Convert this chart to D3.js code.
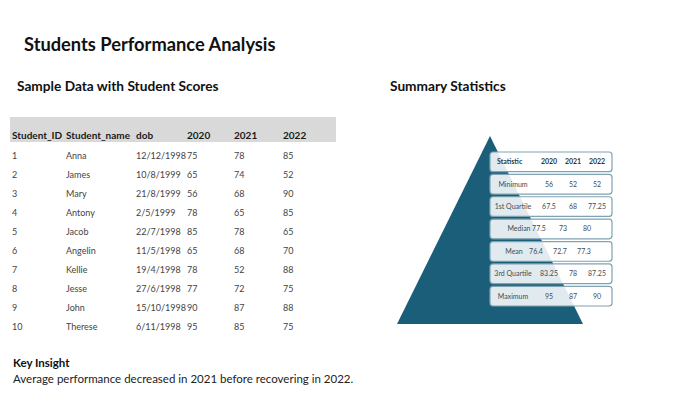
<!DOCTYPE html>
<html>
<head>
<meta charset="utf-8">
<script src="https://cdn.jsdelivr.net/npm/d3@7"></script>
<style>
  body { margin: 0; background: #fff; }
  text { font-family: Lato, "Open Sans", sans-serif; }
</style>
</head>
<body>
<div id="chart"></div>
<script>
// student table data
const columns = ["Student_ID", "Student_name", "dob", "2020", "2021", "2022"];
const ids = [1, 2, 3, 4, 5, 6, 7, 8, 9, 10];
const names = ["Anna", "James", "Mary", "Antony", "Jacob", "Angelin", "Kellie", "Jesse", "John", "Therese"];
const dobs = ["12/12/1998", "10/8/1999", "21/8/1999", "2/5/1999", "22/7/1998", "11/5/1998", "19/4/1998", "27/6/1998", "15/10/1998", "6/11/1998"];
const scores2020 = [75, 65, 56, 78, 85, 65, 78, 77, 90, 95];
const scores2021 = [78, 74, 68, 65, 78, 68, 52, 72, 87, 85];
const scores2022 = [85, 52, 90, 85, 65, 70, 88, 75, 88, 75];

// summary statistics
const statNames = ["Minimum", "1st Quartile", "Median", "Mean", "3rd Quartile", "Maximum"];
const statYears = ["2020", "2021", "2022"];
const stat2020 = ["56", "67.5", "77.5", "76.4", "83.25", "95"];
const stat2021 = ["52", "68", "73", "72.7", "78", "87"];
const stat2022 = ["52", "77.25", "80", "77.3", "87.25", "90"];

const W = 680, H = 410;
const svg = d3.select("#chart").append("svg")
  .attr("width", W)
  .attr("height", H);

// titles
svg.append("text")
  .attr("x", 24).attr("y", 51)
  .style("font-size", "18.3px").style("font-weight", 700)
  .style("fill", "#111")
  .text("Students Performance Analysis");

svg.append("text")
  .attr("x", 17).attr("y", 91)
  .style("font-size", "13.7px").style("font-weight", 700)
  .style("fill", "#111")
  .text("Sample Data with Student Scores");

svg.append("text")
  .attr("x", 390).attr("y", 91)
  .style("font-size", "13.7px").style("font-weight", 700)
  .style("fill", "#111")
  .text("Summary Statistics");

// ---- left table ----
const colX = d3.scaleOrdinal().domain(columns).range([12, 66, 136, 187, 234, 283]);
const rowY = d3.scaleBand().domain(ids).range([146, 336]);

const tbl = svg.append("g");

tbl.append("rect")
  .attr("x", 10).attr("y", 117)
  .attr("width", 326).attr("height", 25)
  .attr("fill", "#d9d9d9");

tbl.selectAll(".hdr")
  .data(columns)
  .join("text")
  .attr("class", "hdr")
  .attr("x", d => colX(d))
  .attr("y", 139)
  .style("font-size", "10px").style("font-weight", 700)
  .style("fill", "#1a1a1a")
  .text(d => d);

const rows = ids.map((id, i) => [id, names[i], dobs[i], scores2020[i], scores2021[i], scores2022[i]]);

const rowG = tbl.selectAll(".row")
  .data(rows)
  .join("g")
  .attr("class", "row")
  .attr("transform", d => `translate(0,${rowY(d[0]) + rowY.bandwidth() / 2})`);

rowG.selectAll("text")
  .data(d => d.map((v, j) => ({ col: columns[j], v })))
  .join("text")
  .attr("x", d => colX(d.col))
  .attr("dy", "0.35em")
  .style("font-size", "9px")
  .style("fill", "#444")
  .text(d => d.v);

// ---- pyramid ----
const tri = svg.append("g");
tri.append("path")
  .attr("d", d3.line()([[490, 136], [397, 324], [583, 324]]) + "Z")
  .attr("fill", "#1b5e79");

// stats boxes
const statRows = ["Statistic", ...statNames];
const sy = d3.scaleBand().domain(statRows).range([152, 306]).paddingInner(0.12);
const sx = d3.scaleOrdinal().domain(statYears).range([549, 573, 597]);

// small nudges that follow the reference's uneven cell placement
const valShift = { "Median": -10, "Mean": -13 };
const labShift = { "Median": 6, "Mean": 1 };

const box = svg.selectAll(".box")
  .data(statRows)
  .join("g")
  .attr("class", "box")
  .attr("transform", d => `translate(0,${sy(d)})`);

box.append("rect")
  .attr("x", 490).attr("y", 0)
  .attr("width", 122).attr("height", sy.bandwidth())
  .attr("rx", 3)
  .attr("fill", "#ffffff").attr("fill-opacity", 0.87)
  .attr("stroke", "#7fa2b2").attr("stroke-width", 1.2);

const mid = sy.bandwidth() / 2;

// header row
box.filter(d => d === "Statistic")
  .call(g => {
    g.append("text")
      .attr("x", 497).attr("y", mid).attr("dy", "0.35em")
      .style("font-size", "7px").style("font-weight", 700)
      .style("fill", "#2b3a44")
      .text("Statistic");
    g.selectAll(".yr")
      .data(statYears)
      .join("text")
      .attr("class", "yr")
      .attr("x", d => sx(d)).attr("y", mid).attr("dy", "0.35em")
      .attr("text-anchor", "middle")
      .style("font-size", "7px").style("font-weight", 700)
      .style("fill", "#2b3a44")
      .text(d => d);
  });

const body = box.filter(d => d !== "Statistic");

body.append("text")
  .attr("x", d => 513 + (labShift[d] || 0))
  .attr("y", mid).attr("dy", "0.35em")
  .attr("text-anchor", "middle")
  .style("font-size", "7px")
  .style("fill", "#3d4d57")
  .text(d => d);

body.selectAll(".val")
  .data(d => {
    const i = statNames.indexOf(d);
    return [stat2020[i], stat2021[i], stat2022[i]].map((v, j) => ({ row: d, yr: statYears[j], v }));
  })
  .join("text")
  .attr("class", "val")
  .attr("x", d => sx(d.yr) + (valShift[d.row] || 0))
  .attr("y", mid).attr("dy", "0.35em")
  .attr("text-anchor", "middle")
  .style("font-size", "7px")
  .style("fill", "#3d4d57")
  .text(d => d.v);

// ---- insight ----
svg.append("text")
  .attr("x", 13).attr("y", 367)
  .style("font-size", "11.5px").style("font-weight", 700)
  .style("fill", "#111")
  .text("Key Insight");

svg.append("text")
  .attr("x", 13).attr("y", 383)
  .style("font-size", "11.5px")
  .style("fill", "#222")
  .text("Average performance decreased in 2021 before recovering in 2022.");
</script>
</body>
</html>
